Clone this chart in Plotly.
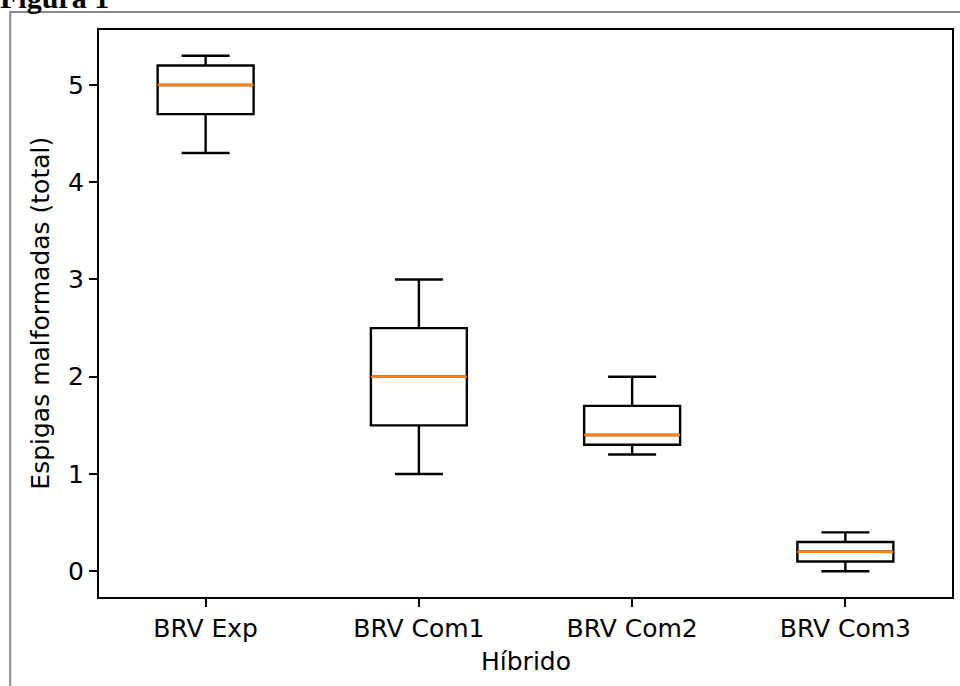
import plotly.graph_objects as go

categories = ["BRV Exp", "BRV Com1", "BRV Com2", "BRV Com3"]
positions = [1, 2, 3, 4]
lower_whisker = [4.3, 1.0, 1.2, 0.0]
q1_vals = [4.7, 1.5, 1.3, 0.1]
median_vals = [5.0, 2.0, 1.4, 0.2]
q3_vals = [5.2, 2.5, 1.7, 0.3]
upper_whisker = [5.3, 3.0, 2.0, 0.4]

box_width = 0.45
font_family = "DejaVu Sans"
fs = 25

fig = go.Figure()
for i, cat in enumerate(categories):
    fig.add_trace(go.Box(
        x=[positions[i]], q1=[q1_vals[i]], median=[median_vals[i]], q3=[q3_vals[i]],
        lowerfence=[lower_whisker[i]], upperfence=[upper_whisker[i]],
        width=box_width, whiskerwidth=0.5, boxpoints=False,
        line=dict(color="black", width=2.4), fillcolor="rgba(255,255,255,0)",
        name=cat, showlegend=False, hoverinfo="skip",
    ))
for i, cat in enumerate(categories):
    fig.add_trace(go.Scatter(
        x=[positions[i] - box_width / 2, positions[i] + box_width / 2],
        y=[median_vals[i], median_vals[i]],
        mode="lines", line=dict(color="#ff7f0e", width=2.4),
        showlegend=False, hoverinfo="skip",
    ))

W, H = 960, 686
L, T, R, B = 99, 30, 6, 89
pw, ph = W - L - R, H - T - B

def px_x(p):
    return (p - L) / pw

def px_y(p):
    return (H - B - p) / ph

fig.update_layout(
    width=W, height=H,
    margin=dict(l=L, r=R, t=T, b=B, pad=0),
    paper_bgcolor="white", plot_bgcolor="white",
    font=dict(family=font_family, size=fs, color="black"),
    showlegend=False,
    xaxis=dict(
        range=[0.5, 4.5], tickvals=positions, ticktext=categories,
        showline=True, mirror=True, linecolor="black", linewidth=2,
        ticks="outside", ticklen=8, tickwidth=2, tickcolor="black",
        showgrid=False, zeroline=False, fixedrange=True,
        tickfont=dict(size=fs),
    ),
    yaxis=dict(
        range=[-0.265, 5.565], tickvals=[0, 1, 2, 3, 4, 5],
        showline=True, mirror=True, linecolor="black", linewidth=2,
        ticks="outside", ticklen=8, tickwidth=2, tickcolor="black",
        showgrid=False, zeroline=False, fixedrange=True,
        tickfont=dict(size=fs),
    ),
    annotations=[
        dict(text="Híbrido", x=0.5, y=px_y(661), xref="paper", yref="paper",
             xanchor="center", yanchor="middle", showarrow=False,
             font=dict(size=fs, family=font_family)),
        dict(text="Espigas malformadas (total)", x=px_x(40), y=0.5,
             xref="paper", yref="paper", xanchor="center", yanchor="middle",
             textangle=-90, showarrow=False, font=dict(size=fs, family=font_family)),
        dict(text="<b>Figura 1</b>", x=px_x(-2), y=px_y(16), xref="paper", yref="paper",
             xanchor="left", yanchor="bottom", showarrow=False,
             font=dict(size=30, family="Liberation Serif")),
    ],
    shapes=[
        dict(type="rect", xref="paper", yref="paper",
             x0=px_x(10), x1=px_x(980), y0=px_y(700), y1=px_y(12),
             line=dict(color="#888888", width=2), layer="below"),
    ],
)

fig.write_html("out.html", config={"displayModeBar": False},
               post_script="document.body.style.margin='0px';document.body.style.overflow='hidden';")
